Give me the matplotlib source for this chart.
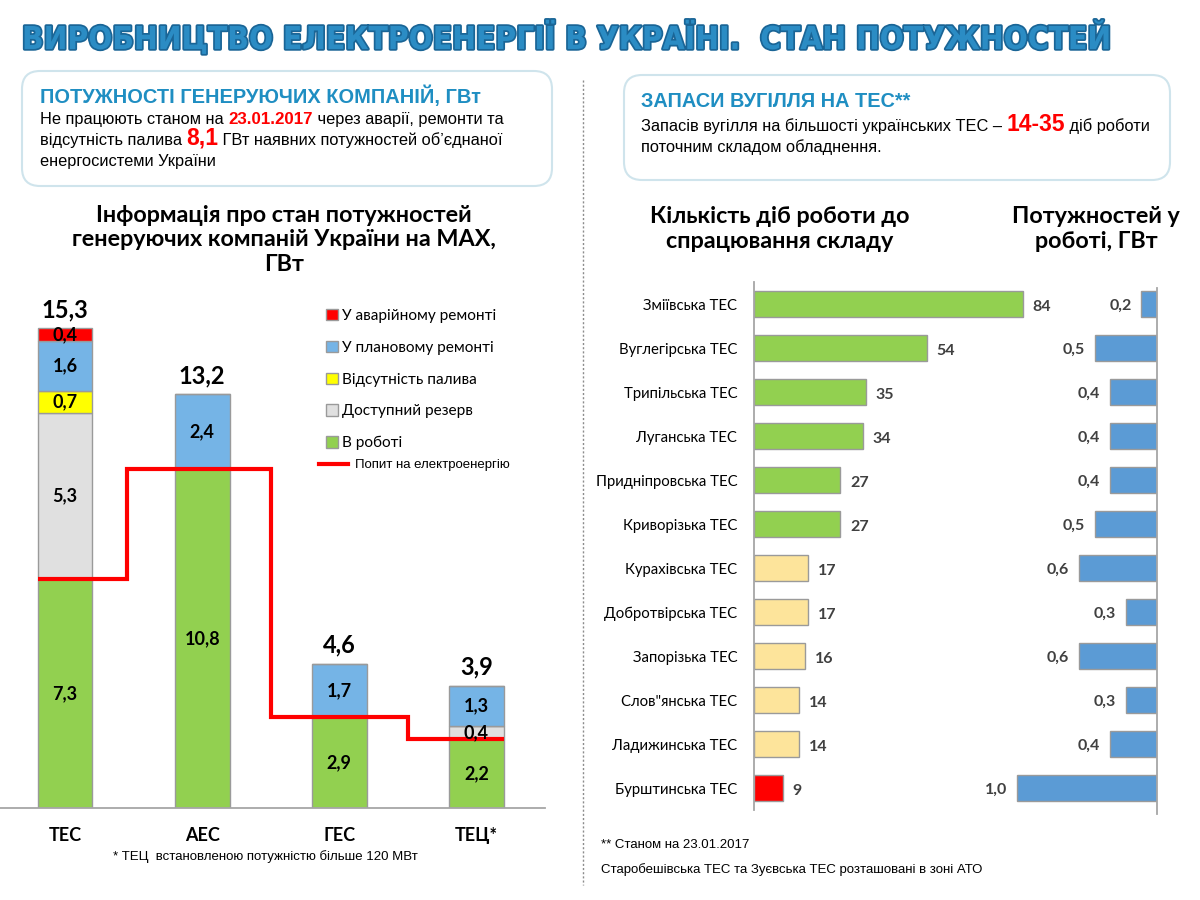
import matplotlib
matplotlib.use("Agg")
import matplotlib.pyplot as plt
from matplotlib.patches import FancyBboxPatch, Patch
from matplotlib.lines import Line2D
import matplotlib.patheffects as pe

# ---------------- data ----------------
categories = ['ТЕС', 'АЕС', 'ГЕС', 'ТЕЦ*']
in_operation = [7.3, 10.8, 2.9, 2.2]
reserve = [5.3, 0.0, 0.0, 0.4]
no_fuel = [0.7, 0.0, 0.0, 0.0]
planned_repair = [1.6, 2.4, 1.7, 1.3]
emergency_repair = [0.4, 0.0, 0.0, 0.0]
demand = [7.3, 10.8, 2.9, 2.2]

series_names = ['В роботі', 'Доступний резерв', 'Відсутність палива',
                'У плановому ремонті', 'У аварійному ремонті']
demand_name = 'Попит на електроенергію'

plants = ['Зміївська ТЕС', 'Вуглегірська ТЕС', 'Трипільська ТЕС', 'Луганська ТЕС',
          'Придніпровська ТЕС', 'Криворізька ТЕС', 'Курахівська ТЕС', 'Добротвірська ТЕС',
          'Запорізька ТЕС', 'Слов"янська ТЕС', 'Ладижинська ТЕС', 'Бурштинська ТЕС']
coal_days = [84, 54, 35, 34, 27, 27, 17, 17, 16, 14, 14, 9]
power_gw = [0.2, 0.5, 0.4, 0.4, 0.4, 0.5, 0.6, 0.3, 0.6, 0.3, 0.4, 1.0]

# ---------------- styles ----------------
CAL = ['Lato', 'Open Sans', 'DejaVu Sans']
ARI = ['Liberation Sans', 'DejaVu Sans']
C_GREEN = '#92d050'
C_GRAY = '#e0e0e0'
C_YELLOW = '#ffff00'
C_BLUE = '#75b4e6'
C_RED = '#ff0000'
C_PALE = '#fde49b'
C_BLUE2 = '#5b9bd5'
EDGE = '#9a9a9a'
TITLE_BLUE = '#1f8ec2'


def fmt(v):
    return f"{v:.1f}".replace('.', ',')


W, H = 1200, 900
fig = plt.figure(figsize=(12, 9), dpi=100)
fig.patch.set_facecolor('white')


def fx(x):
    return x / W


def fy(y):
    return 1 - y / H


# overlay axes in pixel coordinates (y downward)
ov = fig.add_axes([0, 0, 1, 1], zorder=5)
ov.set_xlim(0, W)
ov.set_ylim(H, 0)
ov.axis('off')
ov.patch.set_alpha(0)
renderer = fig.canvas.get_renderer()

# ---------------- header ----------------
hdr = ov.text(22, 38, 'ВИРОБНИЦТВО ЕЛЕКТРОЕНЕРГІЇ В УКРАЇНІ.  СТАН ПОТУЖНОСТЕЙ',
              family='DejaVu Sans', fontstretch='condensed',
              fontweight='bold', fontsize=24, color='#2b8cc4', va='center', ha='left',
              path_effects=[pe.withStroke(linewidth=2.5, foreground='#1a6596')])
wpx = hdr.get_window_extent(renderer=renderer).width
hdr.set_fontsize(24 * 1090 / wpx)

# ---------------- info boxes ----------------
for (x0, y0, x1, y1) in [(22, 71, 552, 186), (624, 75, 1170, 180)]:
    ov.add_patch(FancyBboxPatch((x0 + 18, y0 + 18), x1 - x0 - 36, y1 - y0 - 36,
                                boxstyle='round,pad=18', fc='white', ec='#cfe4ec', lw=1.5))


def rich(x, y, parts):
    for s, kw in parts:
        t = ov.text(x, y, s, va='baseline', ha='left', **kw)
        bb = t.get_window_extent(renderer=renderer)
        x += bb.width


base = dict(family=ARI, fontsize=11.8, color='black')
red = dict(family=ARI, fontsize=12.2, color=C_RED, fontweight='bold')
red_big = dict(family=ARI, fontsize=16.5, color=C_RED, fontweight='bold')

ov.text(40, 103, 'ПОТУЖНОСТІ ГЕНЕРУЮЧИХ КОМПАНІЙ, ГВт', family=ARI, fontweight='bold',
        fontsize=14.4, color=TITLE_BLUE, va='baseline')
rich(40, 124, [('Не працюють станом на ', base), ('23.01.2017', red),
               (' через аварії, ремонти та', base)])
rich(40, 145, [('відсутність палива ', base), ('8,1', red_big),
               (' ГВт наявних потужностей об’єднаної', base)])
rich(40, 166, [('енергосистеми України', base)])

ov.text(641, 107, 'ЗАПАСИ ВУГІЛЛЯ НА ТЕС**', family=ARI, fontweight='bold',
        fontsize=14.3, color=TITLE_BLUE, va='baseline')
rich(641, 131, [('Запасів вугілля на більшості українських ТЕС – ', base),
                ('14-35', red_big), (' діб роботи', base)])
rich(641, 152, [('поточним складом обладнення.', base)])

# divider
ov.plot([583, 583], [80, 885], color='#8c8c8c', lw=1, ls=(0, (1.5, 1.5)))

# ---------------- chart titles ----------------
ov.text(284, 240, 'Інформація про стан потужностей\nгенеруючих компаній України на MAX,\nГВт',
        family=CAL, fontweight='bold', fontsize=16.8, ha='center', va='center',
        linespacing=1.2)
ov.text(780, 229, 'Кількість діб роботи до\nспрацювання складу', family=CAL,
        fontweight='bold', fontsize=16.8, ha='center', va='center', linespacing=1.2)
ov.text(1096, 229, 'Потужностей у\nроботі, ГВт', family=CAL,
        fontweight='bold', fontsize=16.8, ha='center', va='center', linespacing=1.2)

# ---------------- footnotes ----------------
ov.text(265, 857, '* ТЕЦ  встановленою потужністю більше 120 МВт', family=ARI,
        fontsize=9.5, ha='center', va='center')
ov.text(601, 845, '** Станом на 23.01.2017', family=ARI, fontsize=9.5, va='center')
ov.text(601, 870, 'Старобешівська ТЕС та Зуєвська ТЕС розташовані в зоні АТО',
        family=ARI, fontsize=9.5, va='center')

# ---------------- left stacked bar chart ----------------
px_per_gw = 31.37
ymax = 16.5
axL = fig.add_axes([0, fy(808), fx(545), ymax * px_per_gw / H])
axL.set_xlim(-0.474, 3.5)
axL.set_ylim(0, ymax)
x = list(range(len(categories)))
bw = 0.40
stack = [in_operation, reserve, no_fuel, planned_repair, emergency_repair]
colors = [C_GREEN, C_GRAY, C_YELLOW, C_BLUE, C_RED]
bottom = [0.0] * len(categories)
for vals, col, name in zip(stack, colors, series_names):
    axL.bar(x, vals, bw, bottom=bottom, color=col, edgecolor=EDGE, lw=1,
            label=name, zorder=2)
    for xi, v, b in zip(x, vals, bottom):
        if v > 0:
            axL.text(xi, b + v / 2, fmt(v), ha='center', va='center', family=CAL,
                     fontweight='bold', fontsize=13, zorder=4)
    bottom = [b + v for b, v in zip(bottom, vals)]
for xi, tot in zip(x, bottom):
    axL.annotate(fmt(tot), (xi, tot), xytext=(0, 5), textcoords='offset points',
                 ha='center', va='bottom', family=CAL, fontweight='bold', fontsize=17)

edges = [-bw / 2, 0.45, 1.5, 2.5, 3 + bw / 2]
axL.stairs(demand, edges, baseline=None, color=C_RED, lw=3, zorder=3)

for s in ['left', 'right', 'top']:
    axL.spines[s].set_visible(False)
axL.spines['bottom'].set_color('#a6a6a6')
axL.spines['bottom'].set_linewidth(1.3)
axL.set_yticks([])
axL.set_xticks(x)
axL.set_xticklabels(categories, family=CAL, fontweight='bold', fontsize=13)
axL.tick_params(axis='x', length=0, pad=14)
axL.patch.set_alpha(0)

leg_handles = [Patch(fc=col, ec=EDGE, lw=1) for col in reversed(colors)]
leg_labels = list(reversed(series_names))
leg = axL.legend(leg_handles, leg_labels, loc='upper left',
                 bbox_to_anchor=(fx(326), fy(309)), bbox_transform=fig.transFigure,
                 frameon=False, prop=dict(family=CAL, size=11.1),
                 handlelength=0.75, handleheight=0.75, handletextpad=0.3,
                 labelspacing=1.15, borderpad=0, borderaxespad=0)
axL.add_artist(leg)
leg2 = axL.legend([Line2D([], [], color=C_RED, lw=3)], [demand_name], loc='center left',
                  bbox_to_anchor=(fx(319), fy(465)), bbox_transform=fig.transFigure,
                  frameon=False, prop=dict(family=ARI, size=9.5),
                  handlelength=2.2, handletextpad=0.5, borderpad=0, borderaxespad=0)

# ---------------- right chart 1: coal days ----------------
row_px = 44
days_scale = 3.2  # px per day
axD = fig.add_axes([fx(754), fy(810), fx(1060) - fx(754), 12 * row_px / H])
yy = list(range(len(plants)))
day_cols = [C_GREEN if d >= 20 else (C_PALE if d >= 10 else C_RED) for d in coal_days]
axD.barh(yy, coal_days, height=0.6, color=day_cols, edgecolor=EDGE, lw=1)
axD.set_xlim(0, (1060 - 754) / days_scale)
axD.set_ylim(len(plants) - 0.5, -0.5)
for yi, d in zip(yy, coal_days):
    axD.annotate(str(d), (d, yi), xytext=(7, -2.5), textcoords='offset points',
                 ha='left', va='center', family=CAL, fontweight='bold', fontsize=11.5,
                 color='#404040')
axD.set_yticks(yy)
axD.set_yticklabels(plants, family=CAL, fontsize=10.7)
axD.tick_params(axis='y', length=0, pad=12)
axD.set_xticks([])
for s in ['right', 'top', 'bottom']:
    axD.spines[s].set_visible(False)
axD.spines['left'].set_color('#a6a6a6')
axD.spines['left'].set_linewidth(1.3)
axD.patch.set_alpha(0)

# ---------------- right chart 2: power in operation ----------------
p_scale = 156.0  # px per GW
p_min = 0.1
axP = fig.add_axes([fx(990), fy(814), fx(1157) - fx(990), (814 - 288) / H])
axP.barh(yy, power_gw, height=0.6, color=C_BLUE2, edgecolor=EDGE, lw=1)
axP.set_xlim(p_min + (1157 - 990) / p_scale, p_min)
axP.set_ylim(len(plants) - 0.5 + 4 / row_px, -0.5 + 6 / row_px)
for yi, p in zip(yy, power_gw):
    axP.annotate(fmt(p), (p, yi), xytext=(-7, -1), textcoords='offset points',
                 ha='right', va='center', family=CAL, fontweight='bold', fontsize=11.5,
                 color='#404040', annotation_clip=False)
axP.set_yticks([])
axP.set_xticks([])
for s in ['left', 'top', 'bottom']:
    axP.spines[s].set_visible(False)
axP.spines['right'].set_color('#a6a6a6')
axP.spines['right'].set_linewidth(1.3)
axP.patch.set_alpha(0)

fig.savefig('out.png', dpi=100)
